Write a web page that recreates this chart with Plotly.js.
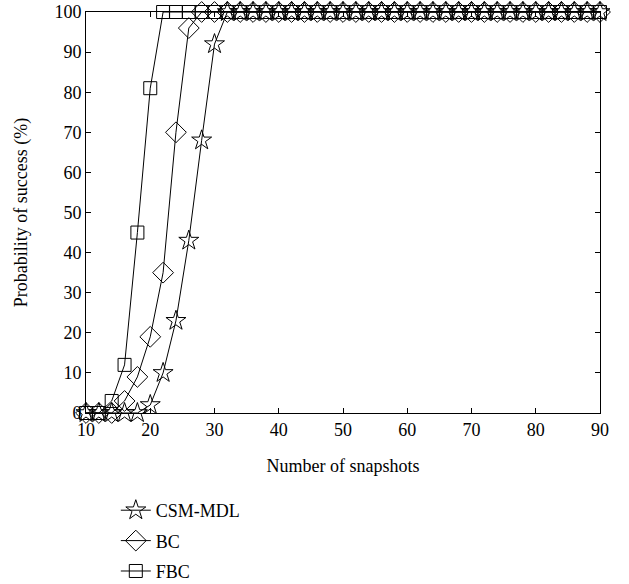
<!DOCTYPE html>
<html>
<head>
<meta charset="utf-8">
<script src="https://cdn.plot.ly/plotly-3.0.1.min.js"></script>
<style>html,body{margin:0;padding:0;background:#fff;}#chart{width:629px;height:584px;}</style>
</head>
<body>
<div id="chart"></div>
<script>
const snapshots = [10,12,14,16,18,20,22,24,26,28,30,32,34,36,38,40,42,44,46,48,50,52,54,56,58,60,62,64,66,68,70,72,74,76,78,80,82,84,86,88,90];
const csmMdl = [0,0,0,0,0,2,10,23,43,68,92,100,100,100,100,100,100,100,100,100,100,100,100,100,100,100,100,100,100,100,100,100,100,100,100,100,100,100,100,100,100];
const bc     = [0,0,0,3,9,19,35,70,96,100,100,100,100,100,100,100,100,100,100,100,100,100,100,100,100,100,100,100,100,100,100,100,100,100,100,100,100,100,100,100,100];
const fbc    = [0,0,3,12,45,81,100,100,100,100,100,100,100,100,100,100,100,100,100,100,100,100,100,100,100,100,100,100,100,100,100,100,100,100,100,100,100,100,100,100,100];
const seriesNames = ["CSM-MDL","BC","FBC"];
const xTicks = [10,20,30,40,50,60,70,80,90];
const yTicks = [0,10,20,30,40,50,60,70,80,90,100];

const font = {family: "Liberation Serif, Times New Roman, serif", size: 18, color: "#000"};
function tr(y, name, symbol, size){
  return {x: snapshots, y: y, name: name, type: "scatter", mode: "lines+markers",
    legendgroup: name,
    line: {color: "#000", width: 1},
    marker: {symbol: symbol, size: size, color: "#000", line: {color: "#000", width: 1}},
    cliponaxis: false};
}
const data = [
  tr(csmMdl, seriesNames[0], "star-open", 15),
  tr(bc, seriesNames[1], "diamond-open", 16),
  tr(fbc, seriesNames[2], "square-open", 13)
];
const axisCommon = {showline: true, linecolor: "#000", linewidth: 1, mirror: "ticks",
  ticks: "inside", ticklen: 5, tickcolor: "#000", showgrid: false, zeroline: false, tickfont: font};
const layout = {
  width: 629, height: 584,
  margin: {l: 86, r: 29, t: 12, b: 171, autoexpand: false},
  paper_bgcolor: "#fff", plot_bgcolor: "#fff",
  font: font,
  xaxis: Object.assign({}, axisCommon, {range: [10, 90], tickvals: xTicks,
    title: {text: "Number of snapshots", font: font, standoff: 20}}),
  yaxis: Object.assign({}, axisCommon, {range: [0, 100], tickvals: yTicks,
    title: {text: "Probability of success (%)", font: font, standoff: 22}}),
  showlegend: true,
  legend: {x: 0.058, xanchor: "left", y: -0.197, yanchor: "top", font: font,
    bgcolor: "rgba(0,0,0,0)", tracegroupgap: 4, itemwidth: 30}
};
Plotly.newPlot("chart", data, layout, {displayModeBar: false, staticPlot: true});
</script>
</body>
</html>
